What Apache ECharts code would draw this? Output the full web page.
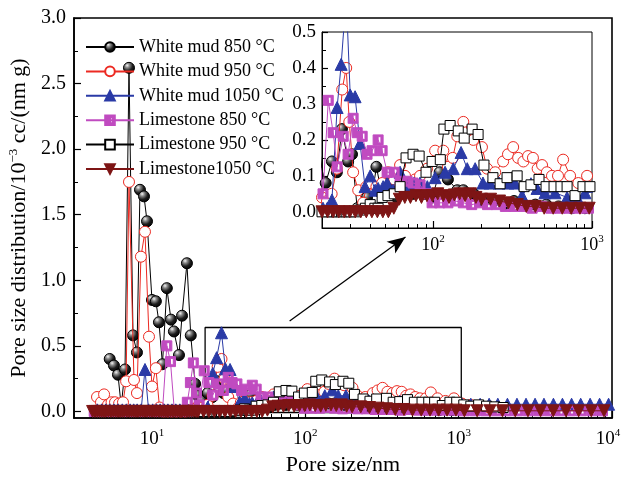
<!DOCTYPE html>
<html><head><meta charset="utf-8">
<script src="https://cdn.jsdelivr.net/npm/echarts@6/dist/echarts.min.js"></script>
<style>html,body{margin:0;padding:0;background:#fff}#c{width:621px;height:477px}</style>
</head><body><div id="c"></div>
<script>
// ---------------- data (pore size in nm, PSD in 10^-3 cc/(nm g)) ----------------
const seriesNames = ['White mud 850 °C','White mud 950 °C','White mud 1050 °C','Limestone 850 °C','Limestone 950 °C','Limestone1050 °C'];

const wm850Size = [5.3,5.65,6.0,6.3,6.67,7.08,7.52,7.98,8.35,8.87,9.28,10.0,10.6,11.1,11.7,12.5,13.3,13.9,15.0,15.7,16.9,17.9,19.1,19.9,21.1,23.1,24.8,26.7,29.2,30.9,33.3,36,38.4,40.2,44,47.5,51.4,55,59,63,68.6,74.8,80.8,89,98.6,110,124,142,155,180,205,241,279,323,374,440,516,616,746,902];
const wm850Psd  = [0.40,0.35,0.28,0.04,0.32,2.62,0.58,0.45,1.69,1.64,1.45,0.85,0.84,0.68,0.36,0.94,0.70,0.61,0.43,0.73,1.13,0.58,0.21,0.12,0.08,0.14,0.11,0.23,0.14,0.16,0.01,0.02,0.04,0.01,0.125,0.05,0.08,0.05,0.04,0.05,0.06,0.05,0.07,0.05,0.04,0.11,0.09,0.06,0.06,0.05,0.03,0.03,0.02,0.03,0.02,0.02,0.02,0.015,0.01,0.01];

const wm950Size = [4.38,4.65,4.87,5.16,5.45,5.74,6.1,6.47,6.78,7.08,7.63,7.98,8.47,9.0,9.56,10.0,10.6,11.2,11.9,12.7,13.5,14.4,15.4,16.4,17.5,18.7,20.0,21.5,23,24.8,26.8,28.4,29.7,31.4,33.8,36.3,38,40.2,44,47.8,52.1,57,62,66.6,71.6,77,82.8,91.7,103,116,124,133,142,155,179,203,219,246,276,296,319,343,370,396,425,455,485,520,560,611,658,728,820,931,1050,1200,1380,1580,1800];
const wm950Psd  = [0.11,0.07,0.13,0.05,0.07,0.07,0.06,0.07,0.23,1.75,0.24,0.14,1.18,1.37,0.57,0.19,0.33,0.03,0.0,0.0,0.0,0.0,0.0,0.0,0.01,0.02,0.04,0.03,0.05,0.12,0.34,0.40,0.25,0.11,0.06,0.025,0.07,0.08,0.07,0.08,0.11,0.09,0.13,0.10,0.08,0.09,0.10,0.12,0.17,0.17,0.125,0.15,0.21,0.25,0.20,0.18,0.12,0.11,0.14,0.16,0.18,0.15,0.14,0.155,0.15,0.12,0.13,0.11,0.10,0.10,0.145,0.10,0.08,0.10,0.06,0.05,0.04,0.03,0.02];

const wm1050Size = [4.4,4.7,5.0,5.3,5.65,6.0,6.4,6.8,7.2,7.6,8.0,8.5,9.0,9.5,10.1,10.7,11.3,12.0,12.7,13.5,14.3,15.2,16.1,17.1,18.1,19.2,20.3,21.6,23.1,24.9,26.4,28.4,30.1,32.3,34.7,37.3,40.2,43.2,45.1,48.5,51.4,56,62,69.6,76,82.8,92,103,119,134,150,164,184,206,228,260,296,328,363,413,451,506,585,697,806,903,1050,1200,1380,1580,1800,2080,2400,2750,3150,3600,4150,4750,5450,6250,7200,8300,9500];
const wm1050Psd  = [0.012,0.012,0.012,0.012,0.012,0.012,0.012,0.012,0.012,0.012,0.012,0.012,0.32,0.012,0.012,0.012,0.012,0.012,0.012,0.012,0.012,0.012,0.012,0.012,0.012,0.012,0.01,0.01,0.033,0.29,0.41,0.60,0.325,0.32,0.19,0.07,0.10,0.06,0.065,0.07,0.08,0.06,0.11,0.075,0.08,0.08,0.07,0.095,0.11,0.12,0.165,0.12,0.12,0.08,0.08,0.08,0.08,0.08,0.045,0.078,0.065,0.053,0.053,0.04,0.04,0.053,0.055,0.055,0.055,0.055,0.055,0.055,0.055,0.055,0.055,0.055,0.055,0.055,0.055,0.055,0.055,0.055,0.055];

const ls850Size = [4.2,4.5,4.8,5.1,5.45,5.8,6.2,6.6,7.0,7.5,8.0,8.5,9.0,9.6,10.2,10.9,11.7,12.5,13.2,14.0,14.9,15.9,17.0,17.8,18.6,19.5,20.3,21.9,23.5,24.9,27.2,29.2,31.4,33.3,35.8,38.4,41.3,45.1,47.8,51.4,56.9,62,68.6,74.8,82.8,90.3,98.6,110,124,138,155,175,197,220,250,285,325,370,420,480,550,630,720,830,950,1090,1280,1500,1760,2060,2420,2840,3330,3900,4580,5370,6300,7390,8670];
const ls850Psd  = [0,0,0,0,0,0,0,0,0,0,0,0,0,0,0,0,0,0.50,0.38,0,0,0,0.07,0.22,0.37,0.14,0.05,0.31,0.22,0.125,0.21,0.16,0.26,0.22,0.21,0.16,0.17,0.20,0.17,0.11,0.11,0.085,0.085,0.08,0.075,0.05,0.025,0.025,0.025,0.03,0.025,0.02,0.025,0.02,0.02,0.015,0.015,0.015,0.01,0.015,0.01,0.01,0.01,0.01,0.01,0.005,0.005,0.005,0.005,0.005,0.005,0.005,0.005,0.005,0.005,0.005,0.005,0.005,0.005];

const ls950Size = [20,21.5,23,24.7,26.5,28.4,30.4,32.6,35,37.5,40.2,43,45.1,47.8,52,57,62,67.6,74.8,81.7,90.3,98.6,111,117,128,144,157,176,192,209,238,264,292,338,374,413,464,514,577,638,697,782,877,971,1080,1200,1350,1520,1720,1950];
const ls950Psd  = [0,0,0,0,0,0,0,0,0.005,0.01,0.02,0.01,0.01,0.04,0.045,0.05,0.07,0.15,0.16,0.155,0.11,0.14,0.145,0.23,0.24,0.225,0.205,0.23,0.215,0.13,0.095,0.078,0.095,0.10,0.07,0.075,0.09,0.07,0.07,0.07,0.07,0.045,0.07,0.07,0.05,0.04,0.05,0.04,0.035,0.03];

const ls1050Size = [4.1,4.25,4.4,4.55,4.7,4.85,5.0,5.2,5.4,5.6,5.8,6.0,6.2,6.4,6.6,6.85,7.1,7.35,7.6,7.85,8.1,8.4,8.7,9.0,9.3,9.65,10.0,10.35,10.7,11.1,11.5,11.9,12.3,12.7,13.2,13.7,14.2,14.7,15.2,15.7,16.3,16.9,17.5,18.1,18.7,19.4,20,21.7,23.5,25.5,27.6,29.9,32.4,35.1,38,41.2,44.6,48.3,52.3,56.6,61.3,66.4,72,78,84.5,91.5,99,107,116,126,136,147,159,172,186,202,230,262,298,339,386,440,500,570,650,740,840,960,1090,1320,1600,1930,2340,2830,3420,4140,5010,6060,7330,8870];
const ls1050Psd  = [0,0,0,0,0,0,0,0,0,0,0,0,0,0,0,0,0,0,0,0,0,0,0,0,0,0,0,0,0,0,0,0,0,0,0,0,0,0,0,0,0,0,0,0,0,0,0,0,0,0,0,0,0,0,0,0,0,0,0,0.01,0.035,0.04,0.04,0.045,0.04,0.045,0.045,0.05,0.045,0.04,0.047,0.05,0.045,0.05,0.04,0.035,0.035,0.03,0.025,0.02,0.015,0.015,0.01,0.01,0.01,0.01,0.01,0.01,0.005,0.005,0.005,0.005,0.005,0.005,0.005,0.005,0.005,0.005,0.005,0.005];

// axis ticks (nm) and annotation box / arrow (data coordinates)
const mainMajorTicks = [10,100,1000,10000];
const mainMinorTicks = [4,5,6,7,8,9,20,30,40,50,60,70,80,90,200,300,400,500,600,700,800,900,2000,3000,4000,5000,6000,7000,8000,9000];
const insetMajorTicks = [100,1000];
const insetMinorTicks = [30,40,50,60,70,80,90,200,300,400,500,600,700,800,900];
const mainYLabels = [0,0.5,1.0,1.5,2.0,2.5,3.0];
const mainYMinor = [0.25,0.75,1.25,1.75,2.25,2.75];
const insetYLabels = [0,0.1,0.2,0.3,0.4,0.5];
const insetYMinor = [0.05,0.15,0.25,0.35,0.45];
const zoomBoxSize = [22.2,1040,1040,22.2,22.2];
const zoomBoxPsd  = [-0.008,-0.008,0.64,0.64,-0.008];
const arrowSize = [79,450];
const arrowPsd  = [0.69,1.33];

// ---------------- chart ----------------
const FONT = '"Liberation Serif","Times New Roman","DejaVu Serif",serif';
const lg = v => Math.log10(v);
const chart = echarts.init(document.getElementById('c'), null, {renderer:'canvas'});

const sphere = new echarts.graphic.RadialGradient(0.35,0.3,0.75,[
  {offset:0,color:'#f4f4f4'},{offset:0.25,color:'#8a8a8a'},{offset:0.6,color:'#1e1e1e'},{offset:1,color:'#000'}]);
const styles = [
  {symbol:'circle', size:11, color:sphere, border:'#000', line:'#000'},
  {symbol:'circle', size:11, color:'#fff', border:'#ec2a22', line:'#ec2a22'},
  {symbol:'triangle', size:12, color:'#2a3aa6', border:'#2a3aa6', line:'#2a3aa6'},
  {symbol:'path://M0,0H10V10H0Z M5,1.8V8.2H7.8V1.8Z', size:10, color:'#c04bc0', border:'#c04bc0', line:'#c04bc0'},
  {symbol:'rect', size:10, color:'#fff', border:'#000', line:'#000'},
  {symbol:'triangle', size:12, rotate:180, color:'#7e1515', border:'#7e1515', line:'#7e1515'}
];
const sizes = [wm850Size,wm950Size,wm1050Size,ls850Size,ls950Size,ls1050Size];
const psds  = [wm850Psd,wm950Psd,wm1050Psd,ls850Psd,ls950Psd,ls1050Psd];

function mk(k, xi, yi) {
  const st = styles[k];
  return {
    name: seriesNames[k], type:'line', xAxisIndex:xi, yAxisIndex:yi,
    data: sizes[k].map((x,i)=>[lg(x), psds[k][i]]),
    symbol: st.symbol, symbolSize: st.size, symbolRotate: st.rotate||0, symbolKeepAspect:true,
    showAllSymbol:true, clip:true, animation:false,
    lineStyle:{color:st.line, width:1},
    itemStyle:{color:st.color, borderColor:st.border, borderWidth:1},
    emphasis:{disabled:true}, z: 3 + k
  };
}

function labRich(fs){ const sf = Math.round(fs*0.6); return {
  b:{fontFamily:FONT, fontSize:fs, color:'#000'},
  s:{fontFamily:FONT, fontSize:sf, color:'#000', padding:[0,0,sf,0]},
  t:{fontFamily:FONT, fontSize:sf, color:'#000', padding:[0,8,sf,0]}
};}
function xMajor(grid, mn, mx, ticks, withName) {
  const fs = grid===0 ? 19 : 18;
  const a = {
    type:'value', gridIndex:grid, min:mn, max:mx, position:'bottom',
    axisLine:{show:true, onZero:false, lineStyle:{color:'#000', width: grid===0?1.6:1}},
    axisTick:{show:true, inside:true, length:7, customValues:ticks.map(lg), lineStyle:{color:'#000', width:1.2}},
    axisLabel:{show:true, customValues:ticks.map(lg), margin: grid===0?10:6,
      formatter: v => '{b|10}{' + ((grid===0 && v > 3.9) ? 't' : 's') + '|' + Math.round(v) + '}', rich:labRich(fs)},
    splitLine:{show:false}
  };
  if (withName) Object.assign(a, {name:'Pore size/nm', nameLocation:'middle', nameGap:36,
      nameTextStyle:{fontFamily:FONT, fontSize:22, color:'#000'}});
  return a;
}
function xMinor(grid, mn, mx, ticks) {
  return {type:'value', gridIndex:grid, min:mn, max:mx, position:'bottom', axisLine:{show:false, onZero:false},
    axisTick:{show:true, inside:true, length:4, customValues:ticks.map(lg), lineStyle:{color:'#000', width:1}},
    axisLabel:{show:false}, splitLine:{show:false}};
}
function yMajor(grid, mn, mx, labels, withName) {
  const a = {
    type:'value', gridIndex:grid, min:mn, max:mx, position:'left',
    axisLine:{show:true, onZero:false, lineStyle:{color:'#000', width: grid===0?1.6:1}},
    axisTick:{show:true, inside:true, length: grid===0?7:6, customValues:labels, lineStyle:{color:'#000', width:1.2}},
    axisLabel:{show:true, customValues:labels, margin: grid===0?8:6, formatter: v => v.toFixed(1),
      fontFamily:FONT, fontSize: grid===0?20:19, color:'#000'},
    splitLine:{show:false}
  };
  if (withName) Object.assign(a, {name:'{a|Pore size distribution/10}{s|−3}{a| cc/(nm g)}',
      nameLocation:'middle', nameGap:38, nameRotate:90,
      nameTextStyle:{rich:{a:{fontFamily:FONT, fontSize:22, color:'#000'},
                           s:{fontFamily:FONT, fontSize:13, color:'#000', padding:[0,0,12,0]}}}});
  return a;
}
function yMinor(grid, mn, mx, ticks) {
  return {type:'value', gridIndex:grid, min:mn, max:mx, position:'left', axisLine:{show:false, onZero:false},
    axisTick:{show:true, inside:true, length:4, customValues:ticks, lineStyle:{color:'#000', width:1}},
    axisLabel:{show:false}, splitLine:{show:false}};
}

const mainXMin = lg(3.1), mainXMax = lg(10000);
const insetXMin = lg(20), insetXMax = lg(1000);

const series = [];
for (let k=0;k<6;k++) series.push(mk(k,0,0));
for (let k=0;k<6;k++) series.push(mk(k,2,2));
series.push({
  name:'zoom-box', type:'line', xAxisIndex:0, yAxisIndex:0, silent:true, animation:false,
  data: zoomBoxSize.map((x,i)=>[lg(x), zoomBoxPsd[i]]), symbol:'none',
  lineStyle:{color:'#000', width:1.3}, z:2,
  markLine:{silent:true, animation:false, symbol:['none','arrow'], symbolSize:[11,18],
    lineStyle:{color:'#000', width:1.3, type:'solid'}, label:{show:false},
    data:[[{coord:[lg(arrowSize[0]), arrowPsd[0]]},{coord:[lg(arrowSize[1]), arrowPsd[1]]}]]}
});

chart.setOption({
  animation:false,
  backgroundColor:'#fff',
  grid:[
    {left:74, top:18, width:538, height:400, show:true, borderColor:'#000', borderWidth:1.6, backgroundColor:'transparent', outerBoundsMode:'none', containLabel:false},
    {left:322, top:32, width:270, height:196, show:true, borderColor:'#000', borderWidth:1, backgroundColor:'transparent', outerBoundsMode:'none', containLabel:false}
  ],
  legend:{
    data:seriesNames, orient:'vertical', left:80, top:33, itemWidth:48, itemHeight:12, itemGap:6.4,
    textStyle:{fontFamily:FONT, fontSize:18, color:'#000'}, selectedMode:false
  },
  xAxis:[
    xMajor(0, mainXMin, mainXMax, mainMajorTicks, true),
    xMinor(0, mainXMin, mainXMax, mainMinorTicks),
    xMajor(1, insetXMin, insetXMax, insetMajorTicks, false),
    xMinor(1, insetXMin, insetXMax, insetMinorTicks)
  ],
  yAxis:[
    yMajor(0, -0.05, 3.0, mainYLabels, true),
    yMinor(0, -0.05, 3.0, mainYMinor),
    yMajor(1, -0.045, 0.5, insetYLabels, false),
    yMinor(1, -0.045, 0.5, insetYMinor)
  ],
  series: series
});
</script></body></html>
